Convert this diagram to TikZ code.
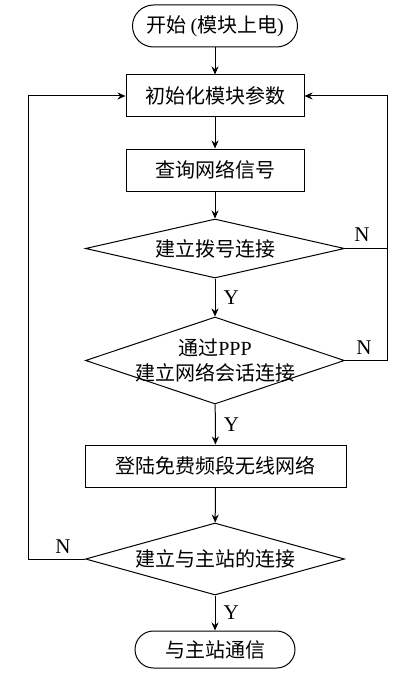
\documentclass[tikz,border=0pt]{standalone}
\usepackage{fontspec}
\setmainfont{Liberation Serif}
\newfontfamily\cjk{Noto Sans CJK SC}
\usetikzlibrary{shapes.geometric,arrows.meta}

\begin{document}
\begin{tikzpicture}[x=1pt, y=-1pt, line width=1pt,
		  font=\fontsize{20}{25}\selectfont\cjk,
		  >={Stealth[length=8pt,width=7pt]},
		  term/.style={draw, rectangle, inner sep=0pt, minimum height=42pt, rounded corners=21pt},
		  proc/.style={draw, rectangle, inner sep=0pt, minimum height=42pt},
		  dec/.style={draw, diamond, inner sep=0pt, minimum width=259pt},
		  lbl/.style={font=\fontsize{21}{25}\selectfont\rmfamily, inner sep=2pt}]
		  \useasboundingbox (0,0) rectangle (414,674);
		  \node[term, minimum width=165pt] (start) at (215,26) {开始 {\rmfamily(}模块上电{\rmfamily)}};
		  \node[proc, minimum width=178pt] (init) at (215,96) {初始化模块参数};
		  \node[proc, minimum width=178pt] (query) at (215,170) {查询网络信号};
		  \node[dec, minimum height=59pt] (dial) at (215,248.5) {};
		  \node (dialtxt) at (dial) {建立拨号连接};
		  \node[dec, minimum height=87pt] (ppp) at (215,360.5) {};
		  \node[align=center] (ppptxt) at (ppp) {通过{\rmfamily PPP}\\建立网络会话连接};
		  \node[proc, minimum width=261pt] (login) at (215.5,466) {登陆免费频段无线网络};
		  \node[dec, minimum height=72pt] (link) at (215,559) {};
		  \node (linktxt) at (link) {建立与主站的连接};
		  \node[term, minimum width=160pt, minimum height=37pt, rounded corners=18.5pt] (stop) at (215,649.5) {与主站通信};
		  \coordinate (rt) at (387,96);
		  \coordinate (lt) at (28,96);
		  \draw[->] (start) -- (init);
		  \draw[->] (init) -- (query);
		  \draw[->] (query) -- (dial);
		  \draw[->] (dial) -- node[lbl, right=6pt] (y1) {Y} (ppp);
		  \draw[->] (ppp) -- node[lbl, right=6pt] (y2) {Y} (login);
		  \draw[->] (login) -- (link);
		  \draw[->] (link) -- node[lbl, right=6pt] (y3) {Y} (stop);
		  \draw[->] (dial.east) -| (rt) -- (init.east);
		  \draw (ppp.east) -| (rt);
		  \draw[->] (link.west) -| (lt) -- (init.west);
		  \node[lbl] (n1) at (362,235) {N};
		  \node[lbl] (n2) at (364,348) {N};
		  \node[lbl] (n3) at (63,547) {N};
	\end{tikzpicture}
\end{document}
